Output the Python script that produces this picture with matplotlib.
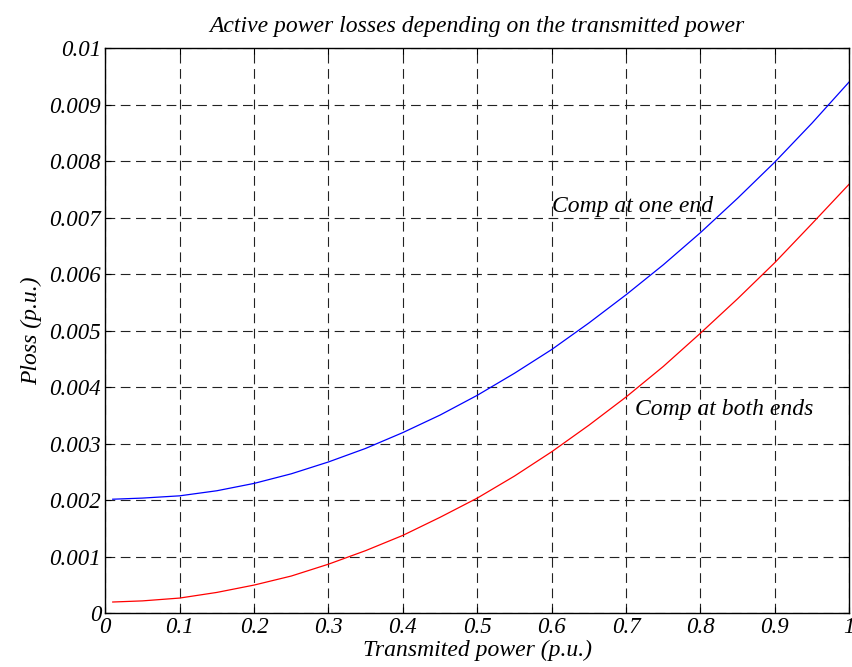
import matplotlib
matplotlib.use("Agg")
import matplotlib.pyplot as plt

plt.rcParams['font.family'] = ['Liberation Serif', 'DejaVu Serif']
plt.rcParams['font.style'] = 'italic'
plt.rcParams['lines.scale_dashes'] = False

# Data (Ploss in p.u.)
x_power = [0.01, 0.05, 0.10, 0.15, 0.20, 0.25, 0.30, 0.35, 0.40, 0.45, 0.50,
           0.55, 0.60, 0.65, 0.70, 0.75, 0.80, 0.85, 0.90, 0.95, 1.00]
ploss_one_end = [0.00202, 0.00204, 0.00208, 0.00217, 0.00230, 0.00247, 0.00268,
                 0.00292, 0.00320, 0.00351, 0.00386, 0.00425, 0.00467, 0.00514,
                 0.00564, 0.00617, 0.00674, 0.00735, 0.00799, 0.00868, 0.00941]
ploss_both_ends = [0.00020, 0.00022, 0.00027, 0.00037, 0.00050, 0.00066, 0.00087,
                   0.00111, 0.00138, 0.00170, 0.00204, 0.00243, 0.00286, 0.00333,
                   0.00383, 0.00437, 0.00496, 0.00557, 0.00621, 0.00690, 0.00760]

x_ticks = [0, 0.1, 0.2, 0.3, 0.4, 0.5, 0.6, 0.7, 0.8, 0.9, 1]
x_ticklabels = ['0', '0.1', '0.2', '0.3', '0.4', '0.5', '0.6', '0.7', '0.8', '0.9', '1']
y_ticks = [0, 0.001, 0.002, 0.003, 0.004, 0.005, 0.006, 0.007, 0.008, 0.009, 0.01]
y_ticklabels = ['0', '0.001', '0.002', '0.003', '0.004', '0.005', '0.006',
                '0.007', '0.008', '0.009', '0.01']

title = 'Active power losses depending on the transmitted power'
xlabel = 'Transmited power (p.u.)'
ylabel = 'Ploss (p.u.)'
label_one = 'Comp at one end'
label_both = 'Comp at both ends'

fig = plt.figure(figsize=(8.52, 6.67), dpi=100)
ax = fig.add_axes([0.1236, 0.0805, 0.8732, 0.8468])

ax.plot(x_power, ploss_one_end, color='#0000ff', lw=0.9)
ax.plot(x_power, ploss_both_ends, color='#ff0000', lw=0.9)

ax.set_xlim(0, 1)
ax.set_ylim(0, 0.01)
ax.set_xticks(x_ticks)
ax.set_xticklabels(x_ticklabels)
ax.set_yticks(y_ticks)
ax.set_yticklabels(y_ticklabels)
ax.tick_params(direction='in', length=4, width=0.8, labelsize=16.5, pad=3,
               top=True, right=True)
ax.grid(True, color='#222222', lw=0.8, linestyle=(0, (7, 4)))

for s in ax.spines.values():
    s.set_linewidth(1.0)
    s.set_color('black')

ax.set_title(title, fontsize=17, pad=12)
ax.set_xlabel(xlabel, fontsize=17, labelpad=1)
ax.set_ylabel(ylabel, fontsize=17, labelpad=5)

ax.text(0.6, 0.0072, label_one, fontsize=17, ha='left', va='center')
ax.text(0.7124, 0.0036, label_both, fontsize=17, ha='left', va='center')

fig.savefig('out.png', dpi=100)
